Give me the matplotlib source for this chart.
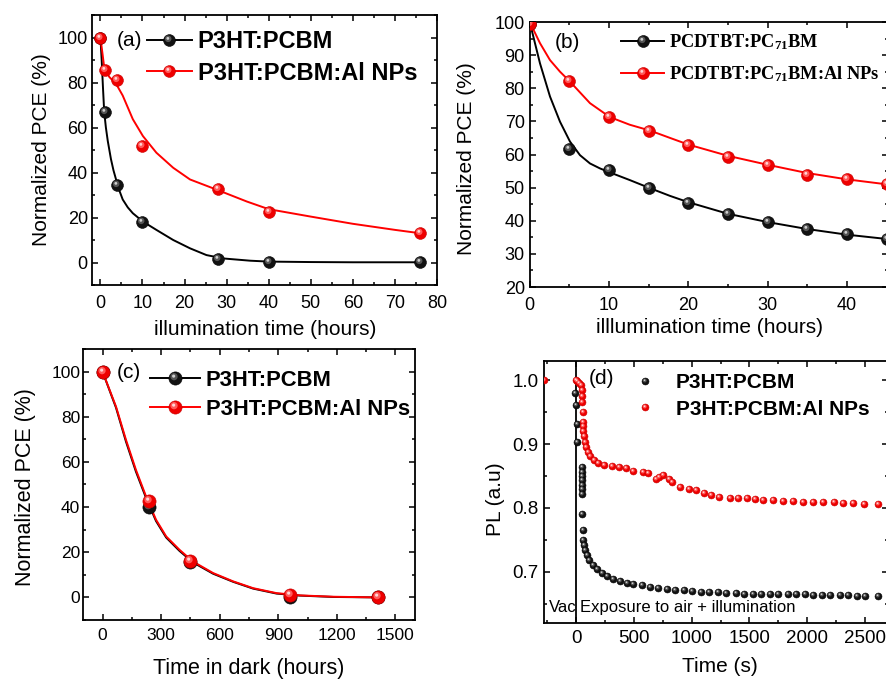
import numpy as np
import matplotlib
matplotlib.use("Agg")
import matplotlib.pyplot as plt
from matplotlib.path import Path
from matplotlib.lines import Line2D
from matplotlib.legend_handler import HandlerTuple
from matplotlib.ticker import MultipleLocator

plt.rcParams['font.family'] = ['Liberation Sans', 'DejaVu Sans']
plt.rcParams['mathtext.default'] = 'regular'

# ---------------- data ----------------
# (a) illumination
a_time = [0, 1, 4, 10, 28, 40, 76]
a_ref = [100, 66.7, 34.6, 17.9, 1.5, 0.1, 0.1]
a_np = [100, 85.7, 80.9, 51.8, 32.8, 22.4, 13.3]
a_fit_ref_t = [0, 0.3, 0.6, 0.9, 1.3, 1.75, 2.5, 3.1, 3.7, 4.5, 5.3, 6.5, 7.7, 10.1, 13.3, 17.3, 21.3, 25.2, 29.2, 35.6, 40, 50, 60, 76]
a_fit_ref = [100, 90, 78, 67, 60, 54, 46, 41, 37, 32, 28, 24.5, 21.9, 18.2, 14.5, 10, 6.3, 3.3, 1.8, 0.8, 0.4, 0.2, 0.1, 0.1]
a_fit_np_t = [0, 0.55, 0.95, 2.14, 3.73, 5.3, 7.7, 10.1, 13.3, 17.3, 21.3, 27.6, 34.8, 40, 50, 60, 70, 76]
a_fit_np = [100, 92, 86, 82.4, 79.4, 74.2, 63.7, 56.2, 48.8, 42.1, 36.9, 32.4, 27.1, 23.7, 20.4, 17.2, 14.5, 13]

# (b) illumination
b_time = [0, 5, 10, 15, 20, 25, 30, 35, 40, 45]
b_ref = [99.5, 61.7, 55.3, 49.8, 45.4, 41.9, 39.5, 37.5, 36.0, 34.5]
b_np = [99.5, 82.1, 71.3, 67.0, 62.8, 59.3, 56.8, 53.7, 52.6, 51.1]
b_fit_ref_t = [0, 1.3, 2.56, 3.82, 5.08, 6.34, 7.6, 8.86, 10.1, 12.6, 15.2, 17.7, 20, 25, 30, 35, 40, 45]
b_fit_ref = [100, 87.5, 77.5, 69.9, 63.9, 59.8, 57.3, 55.8, 54.6, 52.3, 49.8, 47.5, 45.6, 42.1, 39.6, 37.5, 35.8, 34.5]
b_fit_np_t = [0, 1.3, 2.56, 3.82, 5.08, 7.6, 10.1, 12.6, 15.2, 17.7, 20, 25, 30, 35, 40, 45]
b_fit_np = [100, 93.6, 88.5, 85, 82, 75.5, 71.3, 69, 67.2, 65, 63, 59.6, 56.9, 54.4, 52.5, 51]

# (c) dark
c_time = [0, 240, 450, 960, 1410]
c_ref = [100, 40.0, 15.5, 0.0, 0.0]
c_np = [100, 42.5, 16.0, 1.2, 0.2]
c_fit_t = [0, 69, 120, 171, 223, 274, 326, 394, 463, 566, 669, 771, 891, 1011, 1183, 1410]
c_fit_ref = [100, 84, 69, 55.7, 44, 33.8, 26.5, 20.6, 15.5, 10.5, 6.9, 3.9, 1.7, 0.8, 0.2, 0]
c_fit_np = [100, 84.5, 69.8, 56.5, 44.7, 34.4, 27, 21.1, 15.9, 10.8, 7.1, 4.1, 1.9, 0.9, 0.3, 0]

# (d) PL
d_t_ref = [-8, -3, 2, 8, 45, 46, 47, 48, 49, 50, 51, 53, 56, 62, 68, 78, 90,
           113, 142, 177, 220, 263, 321, 379, 436, 494, 566, 639, 711, 783, 855,
           930, 1000, 1080, 1150, 1230, 1300, 1380, 1450, 1530, 1600,
           1680, 1750, 1830, 1900, 1980, 2050, 2130, 2200, 2280, 2350, 2430, 2500, 2610]
d_pl_ref = [0.980, 0.961, 0.932, 0.903, 0.864, 0.857, 0.850, 0.843, 0.836, 0.829, 0.822,
            0.791, 0.765, 0.750, 0.742, 0.734, 0.726,
            0.718, 0.711, 0.705, 0.698, 0.693, 0.689, 0.686, 0.683, 0.681,
            0.679, 0.677, 0.675, 0.673, 0.672,
            0.671, 0.670, 0.669, 0.668, 0.668, 0.667, 0.667, 0.666, 0.666, 0.666,
            0.665, 0.665, 0.665, 0.665, 0.665, 0.664, 0.664, 0.664, 0.664, 0.664,
            0.663, 0.663, 0.663]
d_t_np = [-280, 0, 10, 25, 40, 48, 50, 52, 54, 56, 58, 60, 65, 72, 85, 100, 120, 150, 190, 240,
          310, 370, 430, 490, 580, 620, 690, 720, 750, 800, 830,
          900, 980, 1040, 1110, 1170, 1240, 1330, 1400, 1480, 1550,
          1620, 1700, 1790, 1880, 1960, 2050, 2140, 2230, 2310, 2400, 2490, 2610]
d_pl_np = [1.0, 1.0, 0.998, 0.996, 0.993, 0.985, 0.975, 0.966, 0.950, 0.935, 0.928, 0.920,
           0.912, 0.904, 0.895, 0.888, 0.881, 0.875, 0.870, 0.867,
           0.865, 0.864, 0.862, 0.858, 0.857, 0.854, 0.846, 0.849, 0.851, 0.846, 0.840,
           0.833, 0.829, 0.828, 0.823, 0.820, 0.817, 0.816, 0.815, 0.815, 0.814,
           0.813, 0.812, 0.811, 0.811, 0.810, 0.809, 0.809, 0.809, 0.808, 0.808, 0.807, 0.807]

lab_ref = 'P3HT:PCBM'
lab_np = 'P3HT:PCBM:Al NPs'
lab_b_ref = 'PCDTBT:PC$_{71}$BM'
lab_b_np = 'PCDTBT:PC$_{71}$BM:Al NPs'

# ---------------- styling helpers ----------------
W, H = 886, 680
fig = plt.figure(figsize=(W / 100, H / 100), dpi=100)


def axes_px(l, t, r, b):
    return fig.add_axes([l / W, 1 - b / H, (r - l) / W, (b - t) / H])


def hl_marker(cx, cy, r):
    circ = Path.circle((cx, cy), r)
    verts = np.vstack([[[-1, -1], [1, 1]], circ.vertices])
    codes = np.concatenate([[Path.MOVETO, Path.MOVETO], circ.codes])
    return Path(verts, codes)


MID = hl_marker(-0.22, 0.28, 0.55)
SPOT = hl_marker(-0.28, 0.36, 0.24)
STY = {
    'k': dict(line='black', base='#121212', edge='#000000', mid='#555555', spot='#cfcfcf'),
    'r': dict(line='#ff0000', base='#ee0000', edge='#c80000', mid='#ff5a5a', spot='#ffd6d6'),
}


def balls(ax, x, y, c, ms):
    s = STY[c]
    ax.plot(x, y, ls='none', marker='o', ms=ms, mfc=s['base'], mec=s['edge'], mew=0.4, zorder=3)
    ax.plot(x, y, ls='none', marker=MID, ms=ms, mfc=s['mid'], mew=0, zorder=3)
    ax.plot(x, y, ls='none', marker=SPOT, ms=ms, mfc=s['spot'], mew=0, zorder=3)


def handle(c, ms, line=True):
    s = STY[c]
    ls = '-' if line else 'none'
    return (Line2D([], [], ls=ls, lw=1.4, color=s['line'], marker='o', ms=ms,
                   mfc=s['base'], mec=s['edge'], mew=0.4),
            Line2D([], [], ls='none', marker=MID, ms=ms, mfc=s['mid'], mew=0),
            Line2D([], [], ls='none', marker=SPOT, ms=ms, mfc=s['spot'], mew=0))


def style_axes(ax, fs, xmaj, xmin, ymaj, ymin, xpad, ypad):
    ax.xaxis.set_major_locator(MultipleLocator(xmaj))
    ax.xaxis.set_minor_locator(MultipleLocator(xmin))
    ax.yaxis.set_major_locator(MultipleLocator(ymaj))
    ax.yaxis.set_minor_locator(MultipleLocator(ymin))
    ax.tick_params(which='both', direction='in', top=True, right=True, width=1.1)
    ax.tick_params(which='major', length=4.5, labelsize=fs)
    ax.tick_params(which='minor', length=2.5)
    ax.tick_params(axis='x', pad=xpad)
    ax.tick_params(axis='y', pad=ypad)
    for sp in ax.spines.values():
        sp.set_linewidth(1.3)


def labels(ax, xl, xl_pos, yl, yl_pos, fs):
    ax.set_xlabel(xl, fontsize=fs)
    ax.set_ylabel(yl, fontsize=fs)
    ax.xaxis.set_label_coords(xl_pos[0] / W, 1 - xl_pos[1] / H, transform=fig.transFigure)
    ax.yaxis.set_label_coords(yl_pos[0] / W, 1 - yl_pos[1] / H, transform=fig.transFigure)


def tag(ax, s, x, y, fs=15):
    ax.text(x / W, 1 - y / H, s, transform=fig.transFigure, ha='left', va='center', fontsize=fs)


def legend(ax, hs, labs, x, y_top, fs, hl, htp, lsp, prop=None):
    if prop is None:
        prop = dict(family=['Liberation Sans'], weight='bold', size=fs)
    ax.legend(hs, labs, loc='upper left', bbox_to_anchor=(x / W, 1 - y_top / H),
              bbox_transform=fig.transFigure, frameon=False, borderpad=0, borderaxespad=0,
              handlelength=hl, handletextpad=htp, labelspacing=lsp, numpoints=1,
              prop=prop, handler_map={tuple: HandlerTuple(ndivide=1, pad=0)})


# ---------------- (a) ----------------
ax = axes_px(92, 15, 437, 285)
ax.plot(a_fit_ref_t, a_fit_ref, color='black', lw=1.4, zorder=2)
ax.plot(a_fit_np_t, a_fit_np, color='#ff0000', lw=1.4, zorder=2)
balls(ax, a_time, a_ref, 'k', 8.5)
balls(ax, a_time, a_np, 'r', 8.5)
ax.set_xlim(-2, 80)
ax.set_ylim(-10, 110)
style_axes(ax, 13, 10, 5, 20, 10, 7, 3)
labels(ax, 'illumination time (hours)', (265, 320), 'Normalized PCE (%)', (51, 150), 15)
tag(ax, '(a)', 117, 41)
legend(ax, [handle('k', 8.5), handle('r', 8.5)], [lab_ref, lab_np], 147, 30, 17, 1.9, 0.25, 0.37)

# ---------------- (b) ----------------
ax = axes_px(529.7, 22, 888, 287)
ax.plot(b_fit_ref_t, b_fit_ref, color='black', lw=1.4, zorder=2)
ax.plot(b_fit_np_t, b_fit_np, color='#ff0000', lw=1.4, zorder=2)
balls(ax, b_time, b_ref, 'k', 8.6)
balls(ax, b_time, b_np, 'r', 8.6)
ax.set_xlim(0, (888 - 529.7) / 7.93)
ax.set_ylim(20, 100)
style_axes(ax, 13, 10, 5, 10, 5, 7, 3.5)
labels(ax, 'illlumination time (hours)', (709, 318), 'Normalized PCE (%)', (476, 159), 15)
tag(ax, '(b)', 555, 42)
legend(ax, [handle('k', 8.6), handle('r', 8.6)], [lab_b_ref, lab_b_np], 621, 32, 13.2, 2.37, 0.27, 0.67,
       prop=dict(family=['Liberation Serif'], weight='bold', size=13.2))

# ---------------- (c) ----------------
ax = axes_px(83, 349, 415, 620)
ax.plot(c_fit_t, c_fit_ref, color='black', lw=1.4, zorder=2)
ax.plot(c_fit_t, c_fit_np, color='#ff0000', lw=1.4, zorder=2)
balls(ax, c_time, c_ref, 'k', 9.5)
balls(ax, c_time, c_np, 'r', 9.5)
ax.set_xlim(-100, 1600)
ax.set_ylim(-10, 110)
style_axes(ax, 12.5, 300, 150, 20, 10, 6, 2)
labels(ax, 'Time in dark (hours)', (249, 658), 'Normalized PCE (%)', (36, 487), 15.5)
tag(ax, '(c)', 117, 372)
legend(ax, [handle('k', 9.5), handle('r', 9.5)], [lab_ref, lab_np], 150, 370, 15.8, 2.28, 0.27, 0.35)

# ---------------- (d) ----------------
ax = axes_px(544, 361, 888, 623)
ax.axvline(0, color='black', lw=1.3, zorder=1)
balls(ax, d_t_ref, d_pl_ref, 'k', 5.0)
balls(ax, d_t_np, d_pl_np, 'r', 5.0)
ax.set_xlim(-280, 2700)
ax.set_ylim(0.62, 1.03)
style_axes(ax, 13.5, 500, 250, 0.1, 0.05, 5, 4)
labels(ax, 'Time (s)', (720, 657), 'PL (a.u)', (505, 499), 15)
tag(ax, '(d)', 589, 379)
ax.text(-237, 0.644, 'Vac', fontsize=12, ha='left', va='center')
ax.text(35, 0.644, 'Exposure to air + illumination', fontsize=12, ha='left', va='center')
legend(ax, [handle('k', 5.0, False), handle('r', 5.0, False)], [lab_ref, lab_np], 635, 373, 15, 1.0, 0.97, 0.37)

fig.savefig('out.png', dpi=100)
